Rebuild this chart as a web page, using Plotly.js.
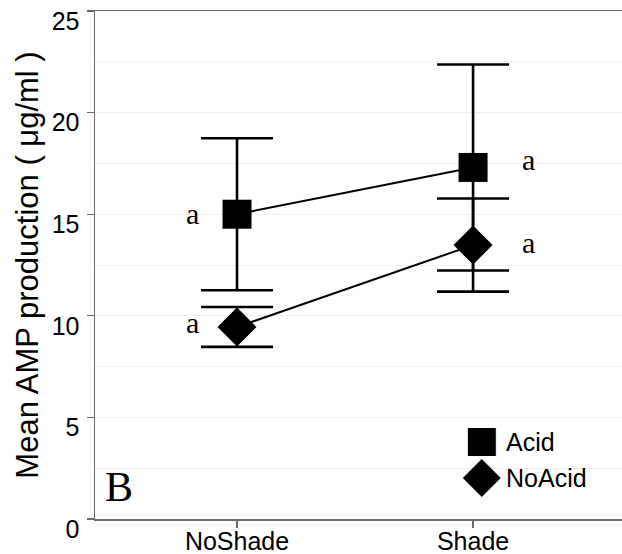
<!DOCTYPE html>
<html>
<head>
<meta charset="utf-8">
<script src="https://cdn.plot.ly/plotly-3.0.1.min.js"></script>
<style>html,body{margin:0;padding:0;background:#fff;}</style>
</head>
<body>
<div id="chart" style="width:622px;height:554px;"></div>
<script>
// ---- data ----
var categories = ['NoShade', 'Shade'];
var acidMeans = [15.0, 17.3];
var acidErrors = [3.74, 5.07];
var noAcidMeans = [9.45, 13.48];
var noAcidErrors = [0.98, 2.29];
var acidLetters = ['a', 'a'];
var noAcidLetters = ['a', 'a'];
var seriesNames = ['Acid', 'NoAcid'];
var yTicks = [0, 5, 10, 15, 20, 25];
var yTitle = 'Mean AMP production ( \u03bcg/ml )';
var panelLabel = 'B';

var black = '#000000';
var axisGray = '#6a6a6a';

function seriesTrace(name, means, errs, symbol, size) {
  return {
    type: 'scatter', mode: 'lines+markers', name: name,
    x: categories, y: means,
    line: {color: black, width: 2},
    marker: {symbol: symbol, size: size, color: black, opacity: 1},
    error_y: {type: 'data', array: errs, visible: true, color: black, thickness: 2.6, width: 36},
    showlegend: false, hoverinfo: 'x+y'
  };
}

var traces = [
  seriesTrace(seriesNames[0], acidMeans, acidErrors, 'square', 29),
  seriesTrace(seriesNames[1], noAcidMeans, noAcidErrors, 'diamond', 30),
  // hand-drawn legend keys on a hidden overlay axis
  {type: 'scatter', mode: 'markers', xaxis: 'x2', yaxis: 'y2',
   x: [0.734, 0.734], y: [0.1516, 0.0807],
   marker: {symbol: ['square', 'diamond'], size: [29, 30], color: black, opacity: 1},
   showlegend: false, hoverinfo: 'skip'}
];

var serif = 'Liberation Serif, Times New Roman, serif';
var sans = 'Liberation Sans, Arial, sans-serif';
var annotations = [];
var shifts = [-45, 55];
categories.forEach(function (c, i) {
  annotations.push({x: c, y: acidMeans[i], xref: 'x', yref: 'y', text: acidLetters[i], showarrow: false,
    xshift: shifts[i], yshift: i === 1 ? 8 : 1, font: {family: serif, size: 30, color: black}});
  annotations.push({x: c, y: noAcidMeans[i], xref: 'x', yref: 'y', text: noAcidLetters[i], showarrow: false,
    xshift: shifts[i], yshift: i === 1 ? 3 : 4, font: {family: serif, size: 30, color: black}});
});
annotations.push({xref: 'paper', yref: 'paper', x: 0.0455, y: 0.063, xanchor: 'center', yanchor: 'middle',
  text: panelLabel, showarrow: false, font: {family: serif, size: 42, color: black}});
annotations.push({xref: 'paper', yref: 'paper', x: 0.776, y: 0.1516, xanchor: 'left', yanchor: 'middle',
  text: seriesNames[0], showarrow: false, font: {family: sans, size: 25, color: black}});
annotations.push({xref: 'paper', yref: 'paper', x: 0.776, y: 0.0807, xanchor: 'left', yanchor: 'middle',
  text: seriesNames[1], showarrow: false, font: {family: sans, size: 25, color: black}});

var layout = {
  width: 622, height: 554,
  margin: {l: 95, r: 0, t: 11, b: 35},
  paper_bgcolor: '#ffffff', plot_bgcolor: '#ffffff',
  font: {family: sans, color: black},
  showlegend: false,
  xaxis: {
    type: 'category', range: [-0.6017, 1.631],
    showline: true, linecolor: axisGray, linewidth: 1.5, mirror: true,
    ticks: 'outside', ticklen: 7, tickcolor: axisGray, tickwidth: 1.2,
    tickfont: {size: 25, color: black}, ticklabelstandoff: -8,
    showgrid: false, zeroline: false, fixedrange: true
  },
  yaxis: {
    range: [0, 25], tickvals: yTicks, ticktext: yTicks.map(String),
    showline: true, linecolor: axisGray, linewidth: 1.5,
    ticks: 'outside', ticklen: 7, tickcolor: axisGray, tickwidth: 1.2,
    tickfont: {size: 25, color: black}, ticklabelshift: 10, ticklabelstandoff: 2,
    showgrid: false, zeroline: false,
    minor: {dtick: 2.5, tick0: 0, showgrid: true, gridcolor: '#efefef', gridwidth: 1, ticks: ''},
    title: {text: yTitle, font: {size: 31, color: black}, standoff: 4},
    fixedrange: true
  },
  xaxis2: {overlaying: 'x', anchor: 'y2', range: [0, 1], visible: false, fixedrange: true},
  yaxis2: {overlaying: 'y', anchor: 'x2', range: [0, 1], visible: false, fixedrange: true},
  annotations: annotations
};

Plotly.newPlot('chart', traces, layout, {displayModeBar: false, staticPlot: true});
</script>
</body>
</html>
